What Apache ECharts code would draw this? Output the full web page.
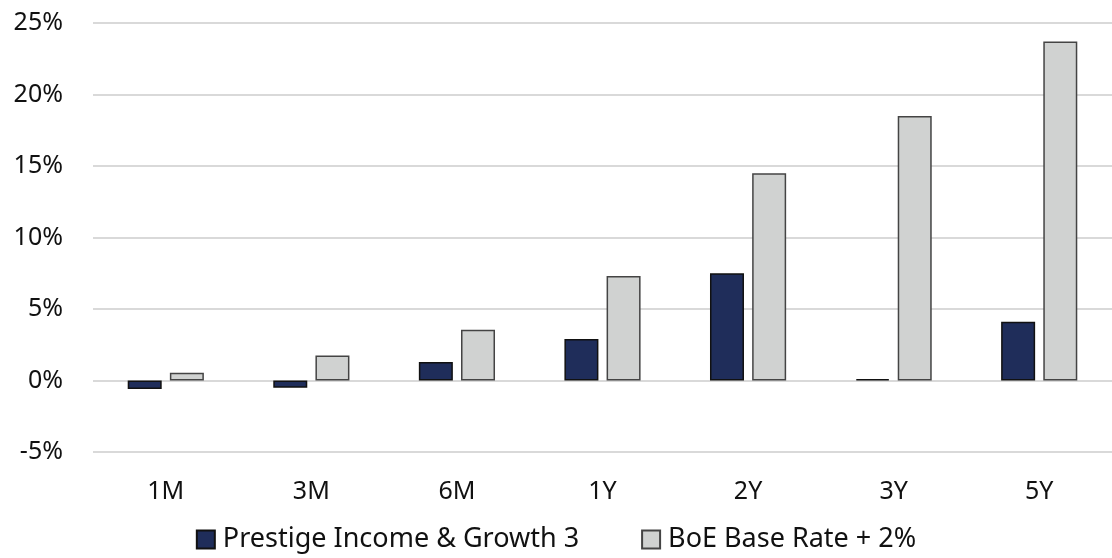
<!DOCTYPE html>
<html lang="en">
<head>
    <meta charset="UTF-8">
    <title>Returns</title>
    <script src="https://cdn.jsdelivr.net/npm/echarts@6/dist/echarts.min.js"></script>
</head>
<body style="margin:0">
<div id="main" style="width: 1112px;height: 558px"></div>
<script>
    var periods = ['1M', '3M', '6M', '1Y', '2Y', '3Y', '5Y'];
    var prestigeData = [-0.6, -0.5, 1.3, 2.9, 7.5, 0.1, 4.1];
    var boeData = [0.55, 1.75, 3.55, 7.3, 14.5, 18.5, 23.7];
    var seriesNames = ['Prestige Income & Growth 3', 'BoE Base Rate + 2%'];

    var myChart = echarts.init(document.getElementById('main'));
    var option = {
        animation: false,
        textStyle: {fontFamily: 'Noto Sans'},
        legend: {       // legend along the bottom
            bottom: 0,
            left: 'center',
            icon: 'rect',
            itemWidth: 18,
            itemHeight: 18,
            itemGap: 62,
            textStyle: {fontSize: 27, color: '#111', fontFamily: 'Noto Sans', padding: [0, 0, 0, 3]},
            data: seriesNames
        },
        grid: {
            left: 93,
            right: 0,
            top: 23,
            bottom: 106
        },
        xAxis: {
            type: 'category',
            data: periods,
            position: 'bottom',
            axisLine: {show: false},
            axisTick: {show: false},
            axisLabel: {fontSize: 25, color: '#111', margin: 27}
        },
        yAxis: {
            type: 'value',
            min: -5,
            max: 25,
            interval: 5,
            axisLabel: {formatter: '{value}%', fontSize: 25, color: '#111', margin: 30},
            splitLine: {lineStyle: {color: '#d9d9d9', width: 2}}
        },
        series: [
            {
                name: seriesNames[0],
                type: 'bar',
                data: prestigeData,
                barWidth: 34,
                barGap: '24%',
                itemStyle: {color: '#1f2d5a', borderColor: '#111', borderWidth: 1.5}
            },
            {
                name: seriesNames[1],
                type: 'bar',
                data: boeData,
                barWidth: 34,
                itemStyle: {color: '#d0d2d1', borderColor: '#444', borderWidth: 1.5}
            }
        ]
    };
    myChart.setOption(option);
</script>
</body>
</html>
